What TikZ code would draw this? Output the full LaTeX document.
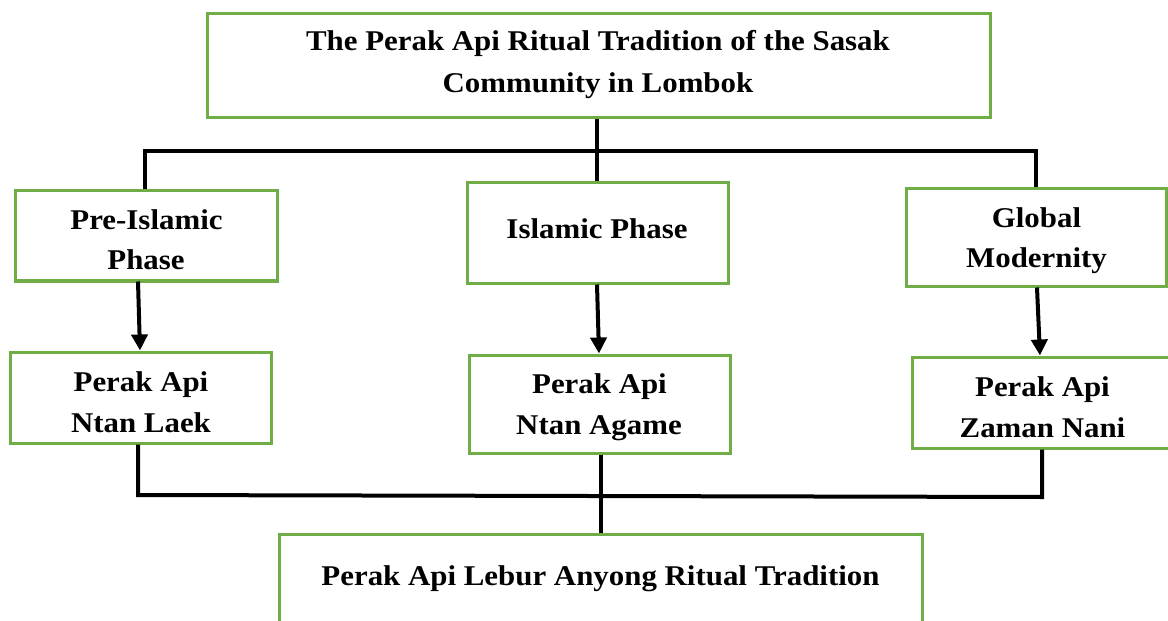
\documentclass[tikz,border=0pt]{standalone}
\usepackage{fontspec}
\setmainfont{Liberation Serif}[FakeStretch=1.08]
\usetikzlibrary{arrows.meta}
\definecolor{boxgreen}{HTML}{70AD47}
\tikzset{
  box/.style={draw=boxgreen, line width=3pt, rectangle, inner sep=0pt},
  txt/.style={font=\fontsize{28.6}{34}\selectfont\bfseries, anchor=base, inner sep=0pt},
  conn/.style={draw=black, line width=4pt},
  arr/.style={conn, -{Triangle[width=16pt,length=16pt]}}
}
\newcommand{\boxat}[5]{% name, x1, y1, x2, y2
  \node[box, minimum width={#4-#2}, minimum height={#5-#3}] (#1) at ({(#2+#4)/2},{(#3+#5)/2}) {};
}
\begin{document}
\begin{tikzpicture}[x=1pt,y=-1pt]
\useasboundingbox (0,0) rectangle (1168,621);
% boxes
\boxat{top}{207}{13}{990}{117}
\boxat{pre}{15}{190}{277}{280}
\boxat{isl}{467}{182}{728}{283}
\boxat{glo}{906}{188}{1166}{286}
\boxat{laek}{10}{352}{271}{443}
\boxat{agame}{469}{355}{730}{453}
\boxat{nani}{912}{357}{1180}{448}
\boxat{lebur}{279}{534}{922}{640}
% texts
\node[txt] (t1) at (598,50) {The Perak Api Ritual Tradition of the Sasak};
\node[txt] (t2) at (598,92) {Community in Lombok};
\node[txt] (p1) at (146.5,229) {Pre-Islamic};
\node[txt] (p2) at (146,269) {Phase};
\node[txt] (i1) at (597,238) {Islamic Phase};
\node[txt] (g1) at (1036.5,227) {Global};
\node[txt] (g2) at (1036.5,267) {Modernity};
\node[txt] (l1) at (141,391) {Perak Api};
\node[txt] (l2) at (141,432) {Ntan Laek};
\node[txt] (a1) at (599.5,393) {Perak Api};
\node[txt] (a2) at (599,434) {Ntan Agame};
\node[txt] (n1) at (1042.5,396) {Perak Api};
\node[txt] (n2) at (1042.5,437) {Zaman Nani};
\node[txt] (b1) at (600.5,585) {Perak Api Lebur Anyong Ritual Tradition};
% border over the text of the pre box
\draw[boxgreen, line width=3pt] (pre.south west) -- (pre.south east);
% connectors top
\coordinate (jt) at (597,151);
\coordinate (jl) at (145,151);
\coordinate (jr) at (1036,151);
\draw[conn] (top.south -| jt) -- (isl.north -| jt);
\draw[conn] (pre.north -| jl) -- (jl) -- (jr) -- (glo.north -| jr);
% arrows
\draw[arr] (pre.south -| 138,0) -- (laek.north -| 140,0);
\draw[arr] (isl.south -| 597,0) -- (agame.north -| 599,0);
\draw[arr] (glo.south -| 1037,0) -- (nani.north -| 1040,0);
% bottom connectors
\coordinate (bl) at (138,495);
\coordinate (br) at (1042,497);
\coordinate (bm) at (601,496);
\draw[conn] (laek.south -| bl) -- (bl) -- (br) -- (nani.south -| br);
\draw[conn] (agame.south -| bm) -- (lebur.north -| bm);
\end{tikzpicture}
\end{document}
